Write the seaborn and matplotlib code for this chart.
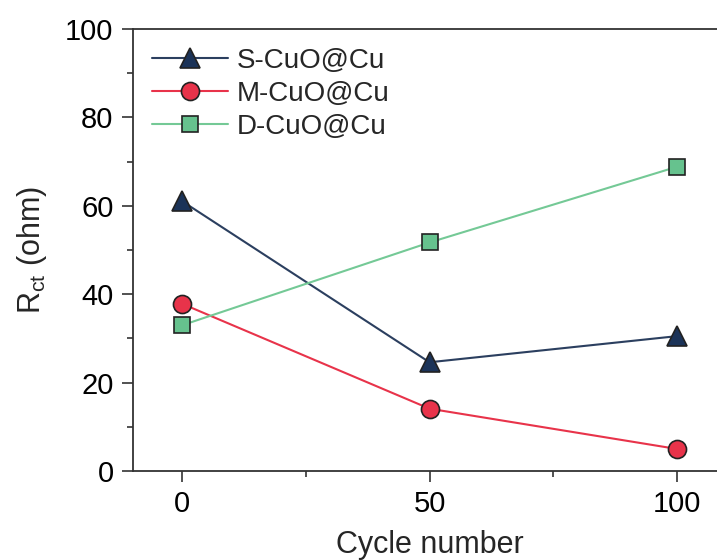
import matplotlib
matplotlib.use("Agg")
import matplotlib.pyplot as plt
import seaborn as sns
import pandas as pd
from matplotlib.ticker import MultipleLocator

cycles = [0, 50, 100]
s_cuo = [61.0, 24.6, 30.5]
m_cuo = [37.8, 14.1, 5.0]
d_cuo = [33.0, 51.7, 68.8]
labels = ["S-CuO@Cu", "M-CuO@Cu", "D-CuO@Cu"]

sns.set_theme(style="ticks")
plt.rcParams['font.family'] = ['Liberation Sans', 'DejaVu Sans']
plt.rcParams['mathtext.fontset'] = 'custom'
plt.rcParams['mathtext.rm'] = 'Liberation Sans'

fig = plt.figure(figsize=(7.17, 5.6), dpi=100)
ax = fig.add_axes([133/717, 89/560, 593/717, 442/560])

series = [
    (s_cuo, labels[0], "#2b3f5f", "#1b3358", "^"),
    (m_cuo, labels[1], "#e8334a", "#e8334a", "o"),
    (d_cuo, labels[2], "#74c996", "#66c28e", "s"),
]
msizes = {"^": 15, "o": 13, "s": 11}
for vals, lab, lc, mc, mk in series:
    df = pd.DataFrame({"x": cycles, "y": vals})
    sns.lineplot(data=df, x="x", y="y", ax=ax, color=lc, lw=1.5,
                 marker=mk, markersize=msizes[mk], markerfacecolor=mc,
                 markeredgecolor="#222222", markeredgewidth=1.2, label=lab)

ax.set_xlim(-10, 110)
ax.set_ylim(0, 100)
ax.xaxis.set_major_locator(MultipleLocator(50))
ax.xaxis.set_minor_locator(MultipleLocator(25))
ax.yaxis.set_major_locator(MultipleLocator(20))
ax.yaxis.set_minor_locator(MultipleLocator(10))
ax.tick_params(which="major", direction="out", length=8, width=1.2, labelsize=21,
               pad=6, colors="#333333", labelcolor="black")
ax.tick_params(which="minor", direction="out", length=4, width=1.2, colors="#333333")
for sp in ax.spines.values():
    sp.set_linewidth(1.3)
    sp.set_color("#333333")
ax.spines["right"].set_visible(False)

ax.set_xlabel("Cycle number", fontsize=22, labelpad=8)
ax.set_ylabel(r"$\mathregular{R_{ct}}$ (ohm)", fontsize=22, labelpad=12)

leg = ax.legend(loc="upper left", frameon=False, fontsize=20, handlelength=2.75,
                borderaxespad=0.0, borderpad=0.0, handletextpad=0.3, labelspacing=0.25,
                bbox_to_anchor=(19/593, 1 - 19/442))

fig.savefig("out.png", dpi=100)
